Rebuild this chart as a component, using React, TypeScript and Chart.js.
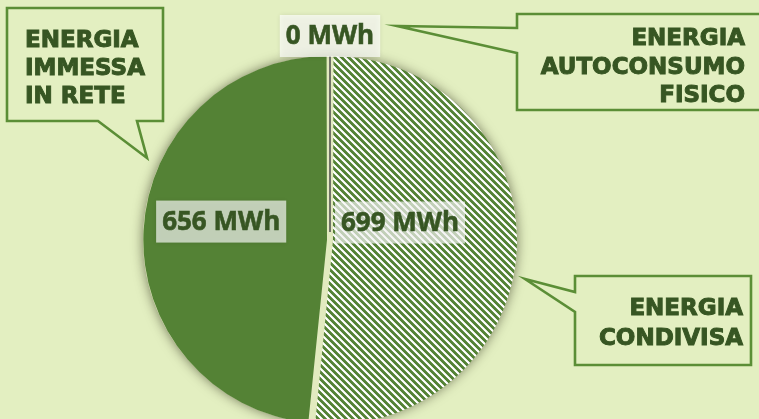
import React, { useEffect, useRef } from 'react';
import { Chart, registerables } from 'chart.js';

Chart.register(...registerables);

// ---- data ----
const categories = ['ENERGIA AUTOCONSUMO FISICO', 'ENERGIA CONDIVISA', 'ENERGIA IMMESSA IN RETE'];
const values = [0, 699, 656];
const unit = 'MWh';
const calloutLines = [
  ['ENERGIA', 'AUTOCONSUMO', 'FISICO'],
  ['ENERGIA', 'CONDIVISA'],
  ['ENERGIA', 'IMMESSA', 'IN RETE'],
];

// ---- styling / layout ----
const BG = '#e3efc1';
const DARK = '#548235';
const TEXT = '#375623';
const BORDER = '#5b8e36';
const GAP = '#e2eabf';

// label placement relative to each slice (radial fraction of radius, vertical shift)
const labelRadial = [1.127, 0.387, 0.602];
const labelDy = [0, -21, -13];

type Pt = [number, number];
interface Callout {
  poly: Pt[];
  align: CanvasTextAlign;
  x: number;
  baselines: number[];
}
const callouts: Callout[] = [
  {
    poly: [[517, 14], [775, 14], [775, 110], [517, 110], [517, 53], [397, 26], [517, 28]],
    align: 'right', x: 745, baselines: [45, 74, 102],
  },
  {
    poly: [[575, 276], [751, 276], [751, 365], [575, 365], [575, 312], [525, 279], [575, 292]],
    align: 'right', x: 743, baselines: [315, 345],
  },
  {
    poly: [[7, 8], [163, 8], [163, 121], [137, 121], [147, 158], [98, 121], [7, 121]],
    align: 'left', x: 25, baselines: [47, 75, 103],
  },
];

function makeHatch(): CanvasPattern | string {
  const P = 7;
  const c = document.createElement('canvas');
  c.width = P;
  c.height = P;
  const g = c.getContext('2d');
  if (!g) return DARK;
  const img = g.createImageData(P, P);
  for (let y = 0; y < P; y++) {
    for (let x = 0; x < P; x++) {
      const i = (y * P + x) * 4;
      const on = (((x - y) % P) + P) % P < 4;
      img.data[i] = on ? 84 : 255;
      img.data[i + 1] = on ? 130 : 255;
      img.data[i + 2] = on ? 53 : 255;
      img.data[i + 3] = 255;
    }
  }
  g.putImageData(img, 0, 0);
  const p = g.createPattern(c, 'repeat');
  return p || DARK;
}

const decorPlugin = {
  id: 'decor',
  beforeDatasetsDraw(chart: any) {
    const ctx: CanvasRenderingContext2D = chart.ctx;
    const arcs = chart.getDatasetMeta(0).data as any[];
    if (!arcs.length) return;
    const { x, y, outerRadius } = arcs[0].getProps(['x', 'y', 'outerRadius'], true);
    ctx.save();
    ctx.shadowColor = 'rgba(40,40,20,0.6)';
    ctx.shadowBlur = 12;
    ctx.fillStyle = GAP;
    ctx.beginPath();
    ctx.ellipse(x, y, outerRadius + 6, outerRadius + 3, 0, 0, Math.PI * 2);
    ctx.fill();
    ctx.restore();
  },
  afterDatasetsDraw(chart: any) {
    const ctx: CanvasRenderingContext2D = chart.ctx;
    const arcs = chart.getDatasetMeta(0).data as any[];
    if (!arcs.length) return;
    const { x: cx, y: cy, outerRadius: R } = arcs[0].getProps(['x', 'y', 'outerRadius'], true);

    // zero-value slice drawn as a line
    values.forEach((v, i) => {
      if (v !== 0) return;
      const a = arcs[i].getProps(['startAngle'], true).startAngle;
      ctx.save();
      ctx.strokeStyle = '#4a4a4a';
      ctx.lineWidth = 1.5;
      ctx.beginPath();
      ctx.moveTo(cx, cy - 8);
      ctx.lineTo(cx + Math.cos(a) * (R + 3), cy + Math.sin(a) * (R + 3));
      ctx.stroke();
      ctx.restore();
    });

    // value labels
    ctx.save();
    ctx.font = 'bold 26px "Open Sans"';
    ctx.textAlign = 'center';
    ctx.textBaseline = 'middle';
    values.forEach((v, i) => {
      const p = arcs[i].getProps(['startAngle', 'endAngle'], true);
      const m = (p.startAngle + p.endAngle) / 2;
      const lx = cx + Math.cos(m) * R * labelRadial[i];
      const ly = cy + Math.sin(m) * R * labelRadial[i] + labelDy[i];
      const txt = `${v} ${unit}`;
      const w = ctx.measureText(txt).width + 12;
      const h = 42;
      ctx.save();
      ctx.shadowColor = 'rgba(0,0,0,0.18)';
      ctx.shadowBlur = 5;
      ctx.fillStyle = 'rgba(255,255,255,0.66)';
      ctx.fillRect(lx - w / 2, ly - h / 2, w, h);
      ctx.restore();
      ctx.fillStyle = TEXT;
      ctx.strokeStyle = TEXT;
      ctx.lineWidth = 0.6;
      ctx.fillText(txt, lx, ly + 1);
      ctx.strokeText(txt, lx, ly + 1);
    });
    ctx.restore();
  },
  afterDraw(chart: any) {
    const ctx: CanvasRenderingContext2D = chart.ctx;
    ctx.save();
    callouts.forEach((c, ci) => {
      ctx.beginPath();
      c.poly.forEach(([px, py], k) => (k === 0 ? ctx.moveTo(px, py) : ctx.lineTo(px, py)));
      ctx.closePath();
      ctx.fillStyle = BG;
      ctx.fill();
      ctx.strokeStyle = BORDER;
      ctx.lineWidth = 2.6;
      ctx.lineJoin = 'miter';
      ctx.stroke();
      ctx.fillStyle = TEXT;
      ctx.strokeStyle = TEXT;
      ctx.lineWidth = 1;
      ctx.font = 'bold 23px "DejaVu Sans"';
      ctx.textAlign = c.align;
      ctx.textBaseline = 'alphabetic';
      calloutLines[ci].forEach((line, li) => {
        ctx.fillText(line, c.x, c.baselines[li]);
        ctx.strokeText(line, c.x, c.baselines[li]);
      });
    });
    ctx.restore();
  },
};

export default function App() {
  const ref = useRef<HTMLCanvasElement | null>(null);
  useEffect(() => {
    if (!ref.current) return;
    const hatch = makeHatch();
    const chart = new Chart(ref.current, {
      type: 'pie',
      data: {
        labels: categories,
        datasets: [
          {
            data: values,
            backgroundColor: ['#555555', hatch as any, DARK],
            borderWidth: 0,
            offset: [0, 12, 12],
            clip: false as any,
          },
        ],
      },
      options: {
        animation: false,
        responsive: false,
        radius: 181,
        layout: { padding: { left: 0, right: 99, top: 61, bottom: 0 } },
        plugins: {
          legend: { display: false },
          tooltip: { enabled: false },
        },
        events: [],
      } as any,
      plugins: [decorPlugin],
    });
    return () => chart.destroy();
  }, []);
  return (
    <div
      style={{
        position: 'fixed',
        left: 0,
        top: 0,
        width: 759,
        height: 419,
        background: BG,
        overflow: 'hidden',
      }}
    >
      <canvas ref={ref} width={759} height={419} style={{ display: 'block', width: 759, height: 419 }} />
    </div>
  );
}
